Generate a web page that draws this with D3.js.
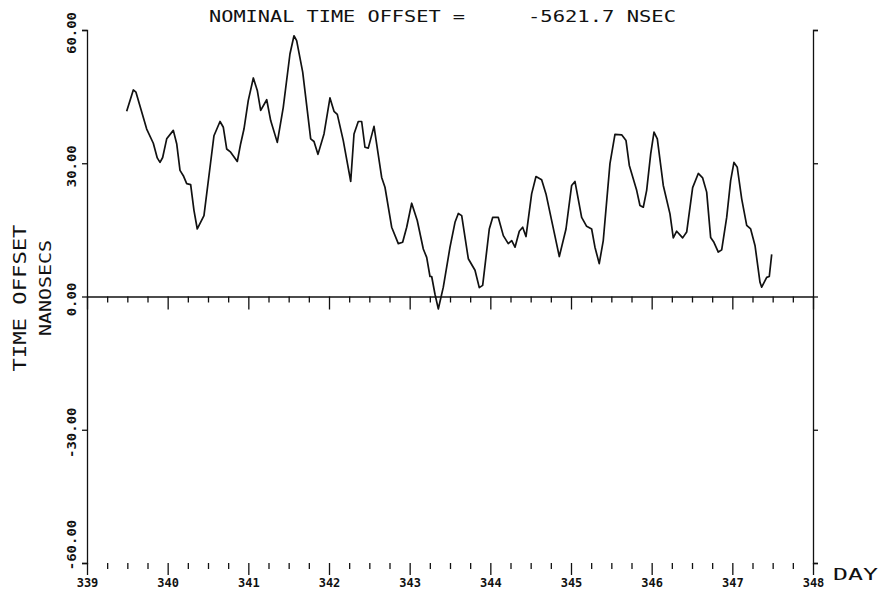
<!DOCTYPE html>
<html>
<head>
<meta charset="utf-8">
<script src="https://cdn.jsdelivr.net/npm/d3@7"></script>
<style>
  body { margin: 0; background: #fff; }
  svg text { font-family: "DejaVu Sans Mono", "Liberation Mono", monospace; fill: #111; }
  .axis path, .axis line { stroke: #111; stroke-width: 1.3; }
</style>
</head>
<body>
<svg id="chart" width="881" height="597"></svg>
<script>
//-- DATA --\\
var titleLeft = "NOMINAL TIME OFFSET =";
var titleRight = "-5621.7 NSEC";
var yLabelTop = "TIME OFFSET";
var yLabelBottom = "NANOSECS";
var xUnit = "DAY";

var dayTicks = [339, 340, 341, 342, 343, 344, 345, 346, 347, 348];
var valueTicks = [-60, -30, 0, 30, 60];
var valueTickLabels = ["-60.00", "-30.00", "0.00", "30.00", "60.00"];

// day of year, time offset in ns
var days = [
  339.492, 339.574, 339.607, 339.740, 339.822, 339.871, 339.905, 339.938, 339.988, 340.070,
  340.112, 340.153, 340.194, 340.236, 340.285, 340.326, 340.367, 340.450, 340.525, 340.574,
  340.649, 340.690, 340.732, 340.781, 340.863, 340.905, 340.946, 340.999, 341.062, 341.111,
  341.153, 341.228, 341.277, 341.359, 341.433, 341.516, 341.566, 341.599, 341.674, 341.773,
  341.814, 341.863, 341.938, 342.012, 342.062, 342.103, 342.177, 342.269, 342.310, 342.363,
  342.405, 342.446, 342.487, 342.558, 342.653, 342.694, 342.777, 342.859, 342.913, 342.963,
  343.025, 343.094, 343.169, 343.211, 343.252, 343.273, 343.314, 343.355, 343.417, 343.500,
  343.562, 343.603, 343.645, 343.727, 343.810, 343.863, 343.905, 343.987, 344.029, 344.099,
  344.161, 344.222, 344.265, 344.306, 344.359, 344.401, 344.442, 344.512, 344.566, 344.636,
  344.690, 344.773, 344.855, 344.938, 345.008, 345.049, 345.132, 345.194, 345.256, 345.297,
  345.350, 345.400, 345.483, 345.545, 345.628, 345.682, 345.723, 345.814, 345.855, 345.896,
  345.938, 345.988, 346.029, 346.070, 346.144, 346.227, 346.268, 346.310, 346.384, 346.434,
  346.508, 346.578, 346.632, 346.682, 346.731, 346.772, 346.826, 346.868, 346.930, 346.979,
  347.020, 347.061, 347.116, 347.178, 347.227, 347.281, 347.343, 347.364, 347.426, 347.458,
  347.488
];
var offsets = [
  41.7, 46.5, 46.0, 37.7, 34.5, 31.2, 30.2, 31.3, 35.5, 37.4,
  34.4, 28.4, 27.2, 25.4, 25.2, 19.4, 15.2, 18.2, 29.1, 36.2,
  39.4, 38.1, 33.2, 32.5, 30.4, 34.4, 37.7, 44.1, 49.2, 46.4,
  41.9, 44.3, 39.6, 34.7, 42.6, 54.6, 58.7, 57.6, 50.5, 35.5,
  34.9, 32.0, 36.6, 44.7, 41.7, 41.0, 35.1, 25.9, 36.6, 39.4,
  39.4, 33.6, 33.4, 38.3, 26.8, 24.6, 15.6, 11.9, 12.2, 15.6,
  21.0, 17.1, 10.7, 8.8, 4.5, 4.5, 0.5, -2.8, 2.1, 11.1,
  16.7, 18.7, 18.2, 8.5, 5.9, 2.0, 2.5, 15.2, 17.8, 17.8,
  13.7, 11.9, 12.6, 11.1, 14.7, 15.6, 13.5, 23.1, 27.0, 26.3,
  23.1, 16.0, 9.0, 15.2, 25.0, 25.9, 17.8, 15.8, 15.2, 11.1,
  7.4, 12.6, 29.9, 36.5, 36.4, 35.1, 29.5, 23.9, 20.5, 20.1,
  23.9, 32.1, 37.0, 35.5, 25.0, 18.6, 13.2, 14.7, 13.2, 14.5,
  24.5, 27.7, 26.7, 23.5, 13.3, 12.2, 10.0, 10.5, 17.8, 26.1,
  30.2, 29.1, 22.0, 16.0, 15.2, 11.5, 3.2, 2.1, 4.3, 4.5,
  9.5
];

//-- LAYOUT --\\
var svg = d3.select("#chart");
var x = d3.scaleLinear().domain([339, 348]).range([87, 813]);
var y = d3.scaleLinear().domain([-60, 60]).range([563, 30]);

var minorDays = d3.range(339, 348.001, 0.25).filter(function (d) { return d % 1 !== 0; });

/* zero line with quarter-day ticks */
svg.append("g").attr("class", "axis")
  .attr("transform", "translate(0," + y(0) + ")")
  .call(d3.axisBottom(x).tickValues(minorDays).tickSize(6).tickSizeOuter(0).tickFormat(""));
svg.append("g").attr("class", "axis")
  .attr("transform", "translate(0," + y(0) + ")")
  .call(d3.axisBottom(x).tickValues(dayTicks).tickSize(13).tickSizeOuter(0).tickFormat(""))
  .call(function (g) { g.select(".domain").remove(); });

/* bottom ticks (no baseline) with day labels */
svg.append("g").attr("class", "axis")
  .attr("transform", "translate(0," + y(-60) + ")")
  .call(d3.axisBottom(x).tickValues(minorDays).tickSize(6).tickFormat(""))
  .call(function (g) { g.select(".domain").remove(); });
var xAxis = svg.append("g").attr("class", "axis")
  .attr("transform", "translate(0," + y(-60) + ")")
  .call(d3.axisBottom(x).tickValues(dayTicks).tickSize(12).tickPadding(3).tickFormat(d3.format("d")))
  .call(function (g) { g.select(".domain").remove(); });
xAxis.selectAll("text").attr("font-size", 12).attr("font-weight", "bold")
  .attr("font-family", null).attr("fill", null);

/* left and right frames */
svg.append("g").attr("class", "axis")
  .attr("transform", "translate(" + x(339) + ",0)")
  .call(d3.axisLeft(y).tickValues(valueTicks).tickSize(5).tickSizeOuter(5).tickFormat(""));
svg.append("g").attr("class", "axis")
  .attr("transform", "translate(" + x(348) + ",0)")
  .call(d3.axisRight(y).tickValues(valueTicks).tickSize(5).tickSizeOuter(5).tickFormat(""));

/* vertical value labels */
svg.append("g").selectAll("text")
  .data(valueTicks)
  .join("text")
  .attr("transform", function (d) {
      var cy = d === -60 ? y(d) - 18 : y(d) + 3;
      return "translate(76," + cy + ") rotate(-90)";
  })
  .attr("text-anchor", "middle")
  .attr("font-size", 13)
  .attr("font-weight", "bold")
  .attr("textLength", function (d, i) { return valueTickLabels[i].length * 8.4; })
  .attr("lengthAdjust", "spacingAndGlyphs")
  .text(function (d, i) { return valueTickLabels[i]; });

/* axis titles */
svg.append("text")
  .attr("transform", "translate(26,298) rotate(-90)")
  .attr("text-anchor", "middle")
  .attr("font-size", 17)
  .attr("textLength", 147)
  .attr("lengthAdjust", "spacingAndGlyphs")
  .text(yLabelTop);
svg.append("text")
  .attr("transform", "translate(51,288) rotate(-90)")
  .attr("text-anchor", "middle")
  .attr("font-size", 16)
  .attr("textLength", 96)
  .attr("lengthAdjust", "spacingAndGlyphs")
  .text(yLabelBottom);
svg.append("text")
  .attr("x", 833).attr("y", 580)
  .attr("font-size", 16)
  .attr("textLength", 45)
  .attr("lengthAdjust", "spacingAndGlyphs")
  .text(xUnit);

/* title */
svg.append("text")
  .attr("x", 209).attr("y", 22)
  .attr("font-size", 15)
  .attr("textLength", 256)
  .attr("lengthAdjust", "spacingAndGlyphs")
  .text(titleLeft);
svg.append("text")
  .attr("x", 528).attr("y", 22)
  .attr("font-size", 15)
  .attr("textLength", 148)
  .attr("lengthAdjust", "spacingAndGlyphs")
  .text(titleRight);

/* the time offset trace */
var line = d3.line()
  .x(function (d, i) { return x(days[i]); })
  .y(function (d) { return y(d); });

svg.append("path")
  .datum(offsets)
  .attr("fill", "none")
  .attr("stroke", "#111")
  .attr("stroke-width", 1.7)
  .attr("stroke-linejoin", "round")
  .attr("d", line);
</script>
</body>
</html>
